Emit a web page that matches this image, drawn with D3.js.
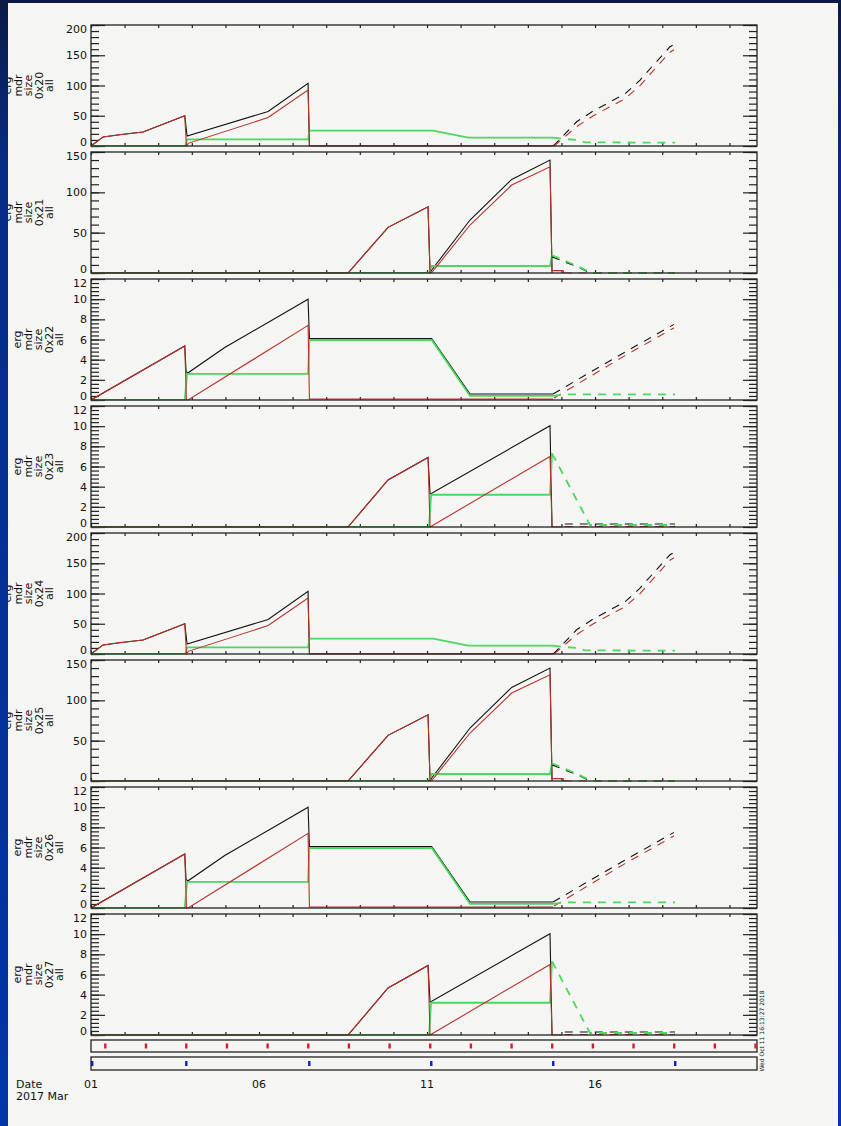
<!DOCTYPE html>
<html>
<head>
<meta charset="utf-8">
<script src="https://cdn.jsdelivr.net/npm/d3@7"></script>
<style>
    body { margin: 0; background: #0036a8; }
    svg { display: block; }
    text { font-family: "DejaVu Sans", sans-serif; fill: #111; }
</style>
</head>
<body>
<div id="chartContainer"></div>
<script>
// days are counted from 2017-03-01 00:00 UT
var startMs = Date.UTC(2017, 2, 1);
var endDay = 19.82;

var panelNames = ["0x20", "0x21", "0x22", "0x23", "0x24", "0x25", "0x26", "0x27"];
var labelLines = ["erg", "mdr", "size", null, "all"];
var dayLabels = ["01", "06", "11", "16"];
var dayLabelAt = [0, 5, 10, 15];

var yTicks200 = [0, 50, 100, 150, 200];
var yTicks150 = [0, 50, 100, 150];
var yTicks12 = [0, 2, 4, 6, 8, 10, 12];

// 0x20 / 0x24
var blackA = [[0, 0], [0.36, 15], [0.9, 19], [1.55, 23], [2.79, 50], [2.86, 16.5], [5.27, 57], [6.46, 103.5], [6.50, 0], [13.75, 0]];
var redA = [[0, 0], [0.36, 15], [0.9, 19], [1.55, 23], [2.79, 50], [2.84, 0], [2.89, 4.4], [5.27, 47], [6.46, 92.5], [6.50, 0], [13.75, 0]];
var greenA = [[0, 0], [2.81, 0], [2.86, 11], [6.46, 11], [6.50, 25.5], [10.18, 25.5], [11.23, 14], [13.75, 14]];
var blackDashA = [[13.75, 0], [13.81, 3], [14.45, 40], [14.95, 58], [15.45, 73], [15.89, 86], [16.34, 109], [16.79, 137], [17.23, 164], [17.35, 168]];
var redDashA = [[13.78, 0], [14.45, 32], [14.95, 50], [15.45, 65], [15.89, 78], [16.34, 100], [16.79, 128], [17.23, 155], [17.35, 159]];
var greenDashA = [[13.75, 14], [14.0, 12], [14.45, 10], [14.7, 6], [17.38, 5.5]];

// 0x21 / 0x25
var blackB = [[0, 0], [7.65, 0], [8.84, 56.6], [10.03, 82], [10.09, 0], [10.14, 3.7], [11.28, 65.7], [12.52, 116], [13.66, 140], [13.72, 0]];
var redB = [[0, 0], [7.65, 0], [8.84, 56.6], [10.03, 82], [10.09, 0], [10.14, 0.5], [11.28, 59.5], [12.52, 109], [13.66, 131.7], [13.72, 3], [14.05, 3], [14.07, 0]];
var greenB = [[0, 0], [10.06, 0], [10.14, 8.7], [13.66, 8.7], [13.72, 22]];
var blackDashB = [[13.72, 20], [14.45, 8], [14.85, 0], [17.38, 0]];
var redDashB = [[14.07, 0], [17.38, 0]];
var greenDashB = [[13.72, 22], [14.45, 9], [14.9, 0], [17.38, 0]];

// 0x22 / 0x26
var blackC = [[0, 0], [2.79, 5.36], [2.83, 2.8], [2.89, 2.7], [3.98, 5.2], [6.46, 10.0], [6.50, 6.1], [10.14, 6.1], [11.28, 0.6], [13.75, 0.6]];
var redC = [[0, 0], [2.79, 5.36], [2.84, 0], [2.89, 0], [6.46, 7.4], [6.50, 0.1], [13.75, 0.1]];
var greenC = [[0, 0], [2.79, 0], [2.86, 2.6], [6.46, 2.6], [6.50, 5.95], [10.14, 5.95], [11.28, 0.4], [13.75, 0.4]];
var blackDashC = [[13.75, 0.6], [15.89, 4.75], [17.35, 7.5]];
var redDashC = [[13.78, 0.2], [15.89, 4.4], [17.35, 7.15]];
var greenDashC = [[13.75, 0.4], [14.1, 0.55], [17.38, 0.55]];

// 0x23 / 0x27
var blackD = [[0, 0], [7.65, 0], [8.84, 4.66], [10.03, 6.9], [10.09, 3.3], [10.14, 3.34], [13.66, 10.05], [13.72, 0]];
var redD = [[0, 0], [7.65, 0], [8.84, 4.66], [10.03, 6.9], [10.09, 0], [10.14, 0.1], [13.66, 7.0], [13.72, 0], [14.0, 0]];
var greenD = [[0, 0], [10.06, 0], [10.12, 3.2], [13.66, 3.2], [13.72, 7.3]];
var blackDashD = [[14.1, 0.3], [17.38, 0.3]];
var redDashD = [[14.1, 0.05], [17.38, 0.05]];
var greenDashD = [[13.72, 7.3], [14.85, 0.2], [17.38, 0.2]];

// timing bars under the panels
var redMarks = [0.42, 1.63, 2.83, 4.04, 5.25, 6.46, 7.67, 8.88, 10.09, 11.30, 12.51, 13.72, 14.93, 16.14, 17.35, 18.56, 19.77];
var blueMarks = [0.03, 2.83, 6.49, 10.12, 13.75, 17.38];

var stamp = "Wed Oct 11 16:13:27 2018";

var kindA = { ticks: yTicks200, minor: 10, wide: true, black: blackA, red: redA, green: greenA, blackDash: blackDashA, redDash: redDashA, greenDash: greenDashA };
var kindB = { ticks: yTicks150, minor: 10, wide: true, black: blackB, red: redB, green: greenB, blackDash: blackDashB, redDash: redDashB, greenDash: greenDashB };
var kindC = { ticks: yTicks12, minor: 0.4, wide: false, black: blackC, red: redC, green: greenC, blackDash: blackDashC, redDash: redDashC, greenDash: greenDashC };
var kindD = { ticks: yTicks12, minor: 0.4, wide: false, black: blackD, red: redD, green: greenD, blackDash: blackDashD, redDash: redDashD, greenDash: greenDashD };
var kinds = [kindA, kindB, kindC, kindD, kindA, kindB, kindC, kindD];

var W = 841, H = 1126;
var left = 91, right = 757;
var top0 = 25, panelH = 121, pitch = 127;

var colBlack = "#111", colRed = "#b8322a", colGreen = "#4ad85e";

function dayToDate(d) {
    return new Date(startMs + d * 864e5);
}

var x = d3.scaleUtc()
    .domain([dayToDate(0), dayToDate(endDay)])
    .range([left, right]);

var dayTicks = d3.utcDay.range(dayToDate(0), dayToDate(endDay + 0.01));

const svg = d3.select("#chartContainer")
    .append("svg")
    .attr("width", W)
    .attr("height", H);

svg.append("rect")
    .attr("width", W)
    .attr("height", H)
    .attr("fill", "#f5f5f4");

function drawPanel(i) {
    var k = kinds[i];
    var top = top0 + i * pitch;
    var bottom = top + panelH;
    var ymax = k.ticks[k.ticks.length - 1];

    var y = d3.scaleLinear()
        .domain([0, ymax])
        .range([bottom, top]);

    var g = svg.append("g");

    svg.append("clipPath")
        .attr("id", "clip" + i)
        .append("rect")
        .attr("x", left)
        .attr("y", top)
        .attr("width", right - left)
        .attr("height", panelH + 0.5);

    var minor = d3.range(0, ymax + k.minor / 2, k.minor);

    // left axis: labels + inward ticks
    var la = g.append("g")
        .attr("transform", "translate(" + left + ",0)")
        .call(d3.axisLeft(y).tickValues(k.ticks).tickSizeInner(-14).tickSizeOuter(0).tickPadding(4));
    la.selectAll("text")
        .attr("font-family", "DejaVu Sans")
        .attr("font-size", 11)
        .attr("fill", "#111")
        .attr("dy", function (d) {
            if (d === 0) return "-0.05em";
            if (d === ymax) return "0.68em";
            return "0.32em";
        });
    g.append("g")
        .attr("transform", "translate(" + left + ",0)")
        .call(d3.axisLeft(y).tickValues(minor).tickSizeInner(-8).tickSizeOuter(0).tickFormat(""));

    // right axis, no labels
    g.append("g")
        .attr("transform", "translate(" + right + ",0)")
        .call(d3.axisRight(y).tickValues(k.ticks).tickSizeInner(-14).tickSizeOuter(0).tickFormat(""));
    g.append("g")
        .attr("transform", "translate(" + right + ",0)")
        .call(d3.axisRight(y).tickValues(minor).tickSizeInner(-8).tickSizeOuter(0).tickFormat(""));

    // time ticks top and bottom
    g.append("g")
        .attr("transform", "translate(0," + top + ")")
        .call(d3.axisTop(x).tickValues(dayTicks).tickSizeInner(-3).tickSizeOuter(0).tickFormat(""));
    g.append("g")
        .attr("transform", "translate(0," + bottom + ")")
        .call(d3.axisBottom(x).tickValues(dayTicks).tickSizeInner(-3).tickSizeOuter(0).tickFormat(""));

    g.selectAll(".domain").remove();
    g.selectAll(".tick line").attr("stroke", "#222").attr("stroke-width", 1.2);

    var line = d3.line()
        .x(function (d) { return x(dayToDate(d[0])) })
        .y(function (d) { return y(d[1]) });

    var lines = svg.append("g").attr("clip-path", "url(#clip" + i + ")");
    var series = [
        [k.black, colBlack, 1.1, null],
        [k.green, colGreen, 1.8, null],
        [k.red, colRed, 1.1, null],
        [k.blackDash, colBlack, 1.1, "8,7"],
        [k.redDash, colRed, 1.1, "8,7"],
        [k.greenDash, colGreen, 1.8, "8,7"]
    ];
    series.forEach(function (s) {
        lines.append("path")
            .datum(s[0])
            .attr("fill", "none")
            .attr("stroke", s[1])
            .attr("stroke-width", s[2])
            .attr("stroke-dasharray", s[3])
            .attr("d", line);
    });

    // frame
    svg.append("rect")
        .attr("x", left)
        .attr("y", top)
        .attr("width", right - left)
        .attr("height", panelH)
        .attr("fill", "none")
        .attr("stroke", "#222")
        .attr("stroke-width", 1.3);

    // rotated y title
    var shift = k.wide ? -10 : 0;
    var t = svg.append("g")
        .attr("transform", "translate(0," + (top + panelH / 2) + ") rotate(-90)");
    labelLines.forEach(function (s, j) {
        t.append("text")
            .attr("x", 0)
            .attr("y", 21 + shift + j * 10.6)
            .attr("text-anchor", "middle")
            .attr("font-size", 11)
            .text(s === null ? panelNames[i] : s);
    });
}

for (var i = 0; i < panelNames.length; i++) {
    drawPanel(i);
}

// red and blue mark bars
function drawBar(y0, h, marks, color, mh) {
    svg.append("rect")
        .attr("x", left)
        .attr("y", y0)
        .attr("width", right - left)
        .attr("height", h)
        .attr("fill", "none")
        .attr("stroke", "#222")
        .attr("stroke-width", 1.3);
    svg.selectAll(null)
        .data(marks)
        .enter()
        .append("rect")
        .attr("x", function (d) { return x(dayToDate(d)) - 1 })
        .attr("y", y0 + (h - mh) / 2)
        .attr("width", 2.4)
        .attr("height", mh)
        .attr("fill", color);
}
drawBar(1040, 12, redMarks, "#d0202a", 5);
drawBar(1057, 13, blueMarks, "#1020c0", 5);

// date labels
svg.selectAll(null)
    .data(dayLabelAt)
    .enter()
    .append("text")
    .attr("x", function (d) { return x(dayToDate(d)) })
    .attr("y", 1088)
    .attr("text-anchor", "middle")
    .attr("font-size", 11)
    .text(function (d, j) { return dayLabels[j] });

svg.append("text").attr("x", 16).attr("y", 1088).attr("font-size", 11).text("Date");
svg.append("text").attr("x", 16).attr("y", 1100).attr("font-size", 11).text("2017 Mar");

svg.append("text")
    .attr("transform", "translate(764,1031) rotate(-90)")
    .attr("text-anchor", "middle")
    .attr("font-size", 6)
    .text(stamp);

// slide background around the picture
var defs = svg.append("defs");
var grad = defs.append("linearGradient")
    .attr("id", "slide")
    .attr("x1", 0).attr("y1", 0).attr("x2", 0).attr("y2", 1);
grad.append("stop").attr("offset", "0%").attr("stop-color", "#0b1a45");
grad.append("stop").attr("offset", "15%").attr("stop-color", "#072c86");
grad.append("stop").attr("offset", "100%").attr("stop-color", "#0036a8");

var frame = svg.append("g").attr("fill", "url(#slide)");
frame.append("rect").attr("x", 0).attr("y", 0).attr("width", 8).attr("height", H);
frame.append("rect").attr("x", 0).attr("y", 0).attr("width", W).attr("height", 3).attr("fill", "#0b1a45");
frame.append("rect").attr("x", 838).attr("y", 0).attr("width", 3).attr("height", H);
</script>
</body>
</html>
